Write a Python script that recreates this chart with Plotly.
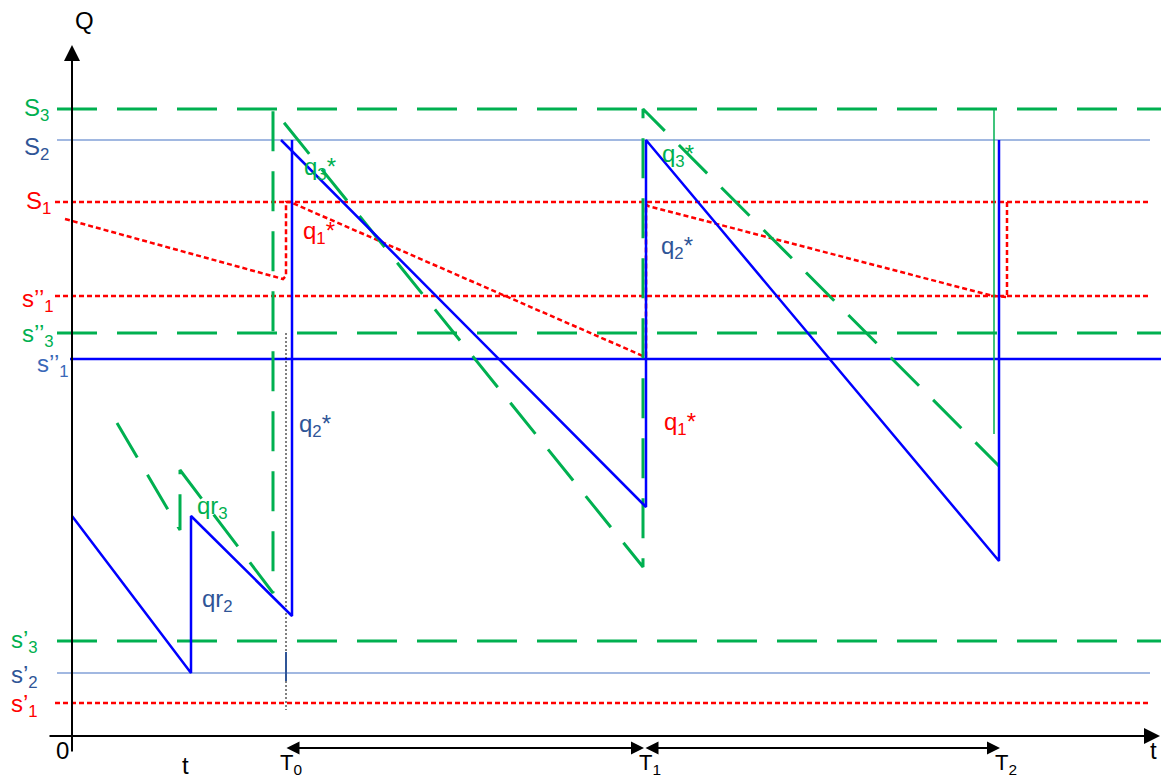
import plotly.graph_objects as go

# chart units: t runs along the time axis, Q is the stock level
period_t = [21.3, 57.2, 92.8]
period_labels = ["T<sub>0</sub>", "T<sub>1</sub>", "T<sub>2</sub>"]

level_labels = ["S<sub>3</sub>", "S<sub>2</sub>", "S<sub>1</sub>", "s’’<sub>1</sub>", "s’’<sub>3</sub>",
                "s’’<sub>1</sub>", "s’<sub>3</sub>", "s’<sub>2</sub>", "s’<sub>1</sub>"]
level_q = [62.7, 59.6, 53.4, 44.0, 40.3, 37.7, 9.5, 6.3, 3.3]
level_kind = ["green", "thin", "red", "red", "green", "blue", "green", "thin", "red"]

# stock of item 2 (blue), item 3 (green), item 1 (red)
blue_t = [0, 11.9, 11.9, 22.0, 22.0, None, 20.9, 57.4, 57.4, 92.7, 92.7]
blue_q = [22.0, 6.3, 22.0, 12.0, 59.6, None, 59.6, 22.9, 59.6, 17.5, 59.6]
green_t = [4.5, 10.8, 10.8, 20.1, 20.1, 57.1, 57.1, 92.7]
green_q = [31.3, 20.6, 26.6, 14.3, 62.7, 16.9, 62.7, 27.0]
green_jump_t = [92.2, 92.2]
green_jump_q = [62.7, 30.2]
red_t = [-0.7, 21.1, 21.4, 21.4, 21.8, 57.1, 57.4, 57.4, 57.6, 92.1, 93.5, 93.5]
red_q = [51.7, 45.7, 46.0, 53.4, 53.4, 38.0, 38.0, 53.2, 53.0, 44.0, 43.9, 53.4]
guide_t = [21.4, 21.4]
guide_q = [40.3, 2.6]
tick_t = [21.4, 21.4]
tick_q = [8.4, 5.5]

# order quantity labels
q_labels = ["q<sub>3</sub>*", "q<sub>1</sub>*", "q<sub>2</sub>*", "qr<sub>3</sub>", "qr<sub>2</sub>",
            "q<sub>3</sub>*", "q<sub>2</sub>*", "q<sub>1</sub>*"]
q_label_t = [23.0, 22.9, 22.5, 12.3, 12.8, 58.8, 58.7, 59.0]
q_label_q = [56.8, 50.4, 31.1, 22.9, 13.6, 58.1, 48.9, 31.3]
q_label_kind = ["green", "red", "navy", "green", "navy", "green", "navy", "red"]

GREEN = "#00b050"
RED = "#ff0000"
BLUE = "#0000ff"
THIN = "#4472c4"
NAVY = "#2f5597"
FONT = "Liberation Sans, Arial, sans-serif"

line_style = {
    "green": dict(color=GREEN, width=3, dash="40px,20px"),
    "red": dict(color=RED, width=2.5, dash="5px,3px"),
    "blue": dict(color=BLUE, width=2.5),
    "thin": dict(color=THIN, width=1.2),
}
label_color = {"green": GREEN, "red": RED, "blue": "#3a68b8", "thin": NAVY, "navy": NAVY}
level_span = {"green": (-1.5, 108.9), "red": (-1.7, 107.8), "blue": (-0.2, 108.9), "thin": (-1.5, 107.8)}
label_x = [-5.0, -5.0, -4.8, -5.2, -5.2, -3.7, -6.3, -6.3, -6.3]
label_dy = [0, -0.8, 0, -0.4, -0.2, -0.6, 0, -0.3, -0.2]

fig = go.Figure()

for q, kind in zip(level_q, level_kind):
    t0, t1 = level_span[kind]
    fig.add_trace(go.Scatter(x=[t0, t1], y=[q, q], mode="lines", line=line_style[kind]))

fig.add_trace(go.Scatter(x=red_t, y=red_q, mode="lines", line=line_style["red"]))
fig.add_trace(go.Scatter(x=green_t, y=green_q, mode="lines", line=line_style["green"]))
fig.add_trace(go.Scatter(x=green_jump_t, y=green_jump_q, mode="lines", line=dict(color=GREEN, width=1.5)))
fig.add_trace(go.Scatter(x=guide_t, y=guide_q, mode="lines", line=dict(color="black", width=1, dash="2px,2px")))
fig.add_trace(go.Scatter(x=tick_t, y=tick_q, mode="lines", line=dict(color=NAVY, width=2)))
fig.add_trace(go.Scatter(x=blue_t, y=blue_q, mode="lines", line=line_style["blue"], connectgaps=False))

# axes with arrow heads
arrow = dict(xref="x", yref="y", axref="x", ayref="y", text="", showarrow=True,
             arrowcolor="black", arrowhead=2, arrowwidth=2)
fig.add_annotation(x=108.8, y=0, ax=-2.4, ay=0, arrowsize=1.6, **arrow)
fig.add_annotation(x=0, y=69.1, ax=0, ay=-1.7, arrowsize=1.6, **arrow)

# cycle arrows T0 -> T1 -> T2
for a, b in zip(period_t[:-1], period_t[1:]):
    fig.add_annotation(x=b, y=-1.2, ax=a, ay=-1.2, xref="x", yref="y", axref="x", ayref="y",
                       text="", showarrow=True, arrowcolor="black", arrowwidth=2,
                       arrowhead=2, startarrowhead=2, arrowsize=1.3, startarrowsize=1.3,
                       arrowside="end+start")

for t, lab in zip(period_t, period_labels):
    fig.add_annotation(x=t + 0.6, y=-2.8, text=lab, showarrow=False,
                       font=dict(family=FONT, size=22, color="black"))

axis_text = [("Q", 1.2, 71.6), ("0", -1.0, -1.4), ("t", 11.3, -2.9), ("t", 108.1, -1.4)]
for txt, t, q in axis_text:
    fig.add_annotation(x=t, y=q, text=txt, showarrow=False, font=dict(family=FONT, size=24, color="black"))

for lab, q, kind, x0, dy in zip(level_labels, level_q, level_kind, label_x, label_dy):
    fig.add_annotation(x=x0, y=q + dy, text=lab, showarrow=False, xanchor="left", yanchor="middle",
                       font=dict(family=FONT, size=24, color=label_color[kind]))

for lab, t, q, kind in zip(q_labels, q_label_t, q_label_q, q_label_kind):
    fig.add_annotation(x=t, y=q, text=lab, showarrow=False, xanchor="left", yanchor="middle",
                       font=dict(family=FONT, size=24, color=label_color[kind]))

fig.update_layout(
    width=1161, height=780, margin=dict(l=0, r=0, t=0, b=0),
    paper_bgcolor="white", plot_bgcolor="white", showlegend=False,
    xaxis=dict(range=[-7.2, 108.9], visible=False, fixedrange=True),
    yaxis=dict(range=[-4.4, 73.6], visible=False, fixedrange=True),
)

# drop the default body margin so the figure fills the window exactly
fig.write_html("out.html", config={"displayModeBar": False},
               post_script="document.body.style.margin='0';document.body.style.overflow='hidden';")
